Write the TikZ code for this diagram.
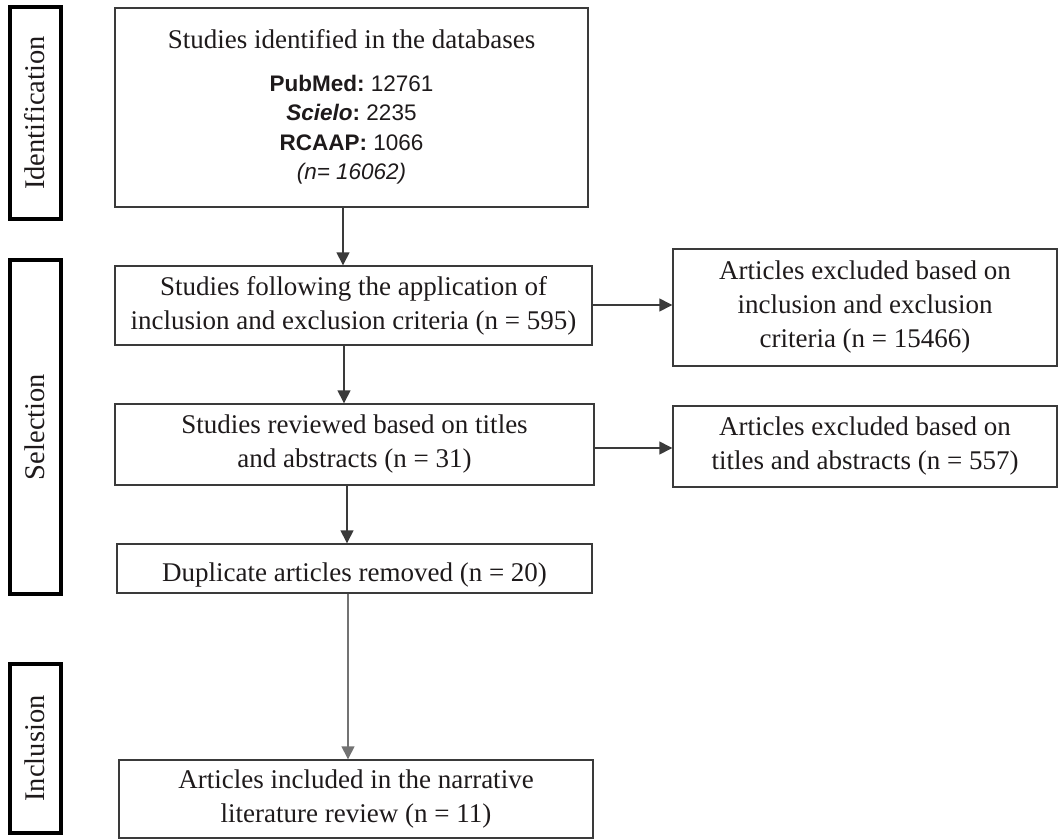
\documentclass[tikz,border=0pt]{standalone}
\usepackage{fontspec}
\setmainfont{Liberation Serif}
\newfontfamily\arialf{Liberation Sans}
\usetikzlibrary{arrows.meta}
\definecolor{ln}{HTML}{3A3A3A}
\definecolor{tx}{HTML}{1E1A1B}
\newcommand\mainfs{\fontsize{27}{34}\selectfont}
\begin{document}
\begin{tikzpicture}[x=1pt,y=-1pt,
  box/.style={draw=ln, line width=1.4pt, inner sep=0pt, text=tx, align=center, font=\mainfs,
    execute at end node={\rule[-6pt]{0pt}{6pt}}},
  tophs/.style={execute at begin node={\rule{0pt}{#1pt}}},
  side/.style={draw=black, line width=4pt, rotate=90, inner sep=0pt, text=tx,
    font=\fontsize{28.5}{32}\selectfont},
  arr/.style={draw=ln, line width=1.4pt, -{Triangle[width=13pt,length=13pt]}},
]
\useasboundingbox (0,0) rectangle (1058,839);

% side labels
\node[side, minimum width=212, minimum height=51] (sid) at (35,113) {Identification};
\node[side, minimum width=334, minimum height=51] (ssel) at (35,427) {Selection};
\node[side, minimum width=169, minimum height=51] (sinc) at (35,748.5) {Inclusion};

% main boxes
\node[box, tophs=36.5, minimum width=473, minimum height=199,
  font=\arialf\fontsize{22.5}{29.5}\selectfont] (b1) at (351.5,107.5)
  {{\rmfamily\fontsize{27}{29.5}\selectfont Studies identified in the databases}\\[13.5pt]
   \textbf{PubMed:}\ 12761\\
   \textbf{\textit{Scielo}:}\ 2235\\
   \textbf{RCAAP:}\ 1066\\
   \textit{(n= 16062)}};

\node[box, tophs=32.4, minimum width=477, minimum height=79] (b2) at (353.5,305.5)
  {Studies following the application of\\inclusion and exclusion criteria (n = 595)};

\node[box, tophs=29, minimum width=384, minimum height=117] (b3) at (865,307.5)
  {Articles excluded based on\\inclusion and exclusion\\criteria (n = 15466)};

\node[box, tophs=24.4, minimum width=479, minimum height=81] (b4) at (354.5,444.5)
  {Studies reviewed based on titles\\and abstracts (n = 31)};

\node[box, tophs=25, minimum width=384, minimum height=81] (b5) at (865,446.5)
  {Articles excluded based on\\titles and abstracts (n = 557)};

\node[box, tophs=32.4, minimum width=475, minimum height=49] (b6) at (354.5,568.5)
  {Duplicate articles removed (n = 20)};

\node[box, tophs=28, minimum width=474, minimum height=78] (b7) at (356,799)
  {Articles included in the narrative\\literature review (n = 11)};

% connector guides
\coordinate (x1) at (343,0);
\coordinate (x2) at (344,0);
\coordinate (x3) at (347,0);
\coordinate (x4) at (348,0);
\coordinate (y1) at (0,305);
\coordinate (y2) at (0,448);

\draw[arr] (b1.south -| x1) -- (b2.north -| x1);
\draw[arr] (b2.south -| x2) -- (b4.north -| x2);
\draw[arr] (b4.south -| x3) -- (b6.north -| x3);
\draw[arr, draw=gray!90!black] (b6.south -| x4) -- (b7.north -| x4);
\draw[arr] (b2.east |- y1) -- (b3.west |- y1);
\draw[arr] (b4.east |- y2) -- (b5.west |- y2);
\end{tikzpicture}
\end{document}
